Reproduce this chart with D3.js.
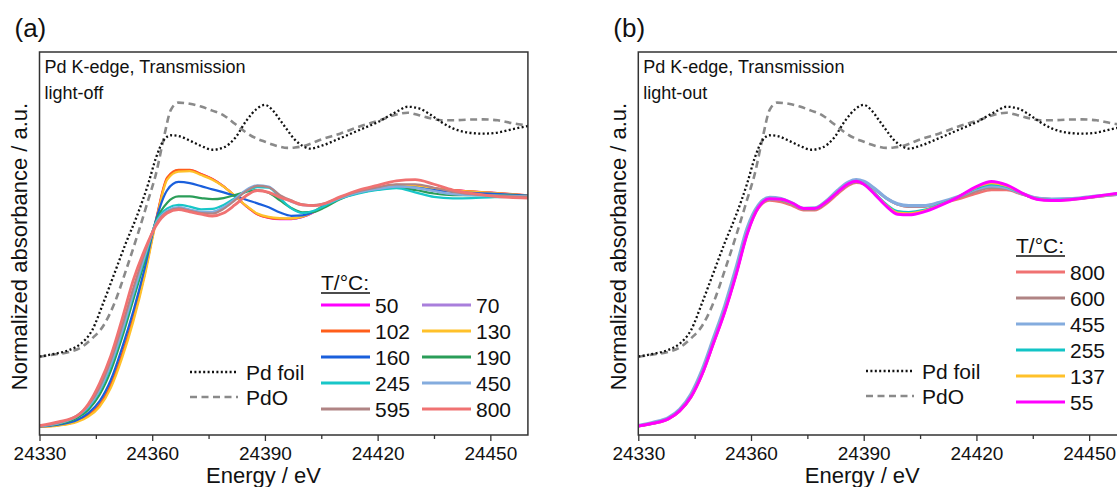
<!DOCTYPE html>
<html>
<head>
<meta charset="utf-8">
<script src="https://cdn.jsdelivr.net/npm/d3@7"></script>
<style>
  html, body { margin: 0; padding: 0; background: #fff; }
  svg { display: block; }
  text { font-family: "Liberation Sans", Arial, sans-serif; fill: #111; }
</style>
</head>
<body>
<svg id="fig" width="1117" height="487"></svg>
<script>
// ---- reference spectra (Pd foil, PdO), shared by both panels ----
const refEnergy = [24330, 24334, 24338, 24341, 24344, 24347, 24350, 24353, 24356, 24359, 24361, 24363, 24365, 24367, 24370, 24373, 24376, 24379, 24382, 24385, 24388, 24390, 24392, 24394, 24396, 24398, 24400, 24402, 24405, 24410, 24415, 24420, 24425, 24428, 24431, 24434, 24437, 24440, 24444, 24448, 24452, 24456, 24460, 24464, 24470];
const pdFoil = [0.306, 0.318, 0.335, 0.362, 0.420, 0.540, 0.670, 0.800, 0.920, 1.060, 1.170, 1.245, 1.268, 1.265, 1.245, 1.222, 1.205, 1.215, 1.255, 1.330, 1.385, 1.400, 1.378, 1.335, 1.290, 1.248, 1.222, 1.210, 1.222, 1.255, 1.290, 1.325, 1.370, 1.392, 1.385, 1.358, 1.325, 1.298, 1.280, 1.275, 1.280, 1.295, 1.308, 1.320, 1.330];
const pdO = [0.305, 0.315, 0.326, 0.345, 0.385, 0.440, 0.540, 0.680, 0.830, 0.990, 1.100, 1.250, 1.380, 1.410, 1.405, 1.393, 1.375, 1.355, 1.318, 1.280, 1.252, 1.240, 1.228, 1.218, 1.213, 1.215, 1.220, 1.230, 1.250, 1.275, 1.305, 1.330, 1.358, 1.366, 1.355, 1.342, 1.333, 1.333, 1.336, 1.337, 1.333, 1.320, 1.310, 1.300, 1.290];

// ---- light-off spectra ----
const offEnergy = [24330, 24335, 24340, 24343, 24346, 24349, 24352, 24355, 24358, 24361, 24364, 24367, 24370, 24373, 24376, 24379, 24382, 24385, 24388, 24391, 24394, 24397, 24400, 24403, 24406, 24410, 24415, 24420, 24425, 24430, 24435, 24440, 24445, 24450, 24455, 24460];
const off50  = [0.001, 0.008, 0.025, 0.050, 0.095, 0.180, 0.312, 0.472, 0.665, 0.897, 1.082, 1.116, 1.117, 1.100, 1.078, 1.046, 1.004, 0.960, 0.924, 0.908, 0.903, 0.903, 0.912, 0.933, 0.966, 0.995, 1.023, 1.040, 1.052, 1.049, 1.038, 1.030, 1.024, 1.019, 1.013, 1.007];
const off70  = [0.001, 0.007, 0.024, 0.049, 0.093, 0.178, 0.310, 0.470, 0.663, 0.895, 1.080, 1.114, 1.115, 1.098, 1.077, 1.046, 1.004, 0.961, 0.926, 0.910, 0.905, 0.905, 0.913, 0.934, 0.967, 0.995, 1.023, 1.039, 1.051, 1.048, 1.037, 1.029, 1.023, 1.018, 1.012, 1.006];
const off102 = [0.001, 0.008, 0.026, 0.052, 0.098, 0.185, 0.318, 0.478, 0.670, 0.900, 1.085, 1.118, 1.118, 1.100, 1.078, 1.046, 1.004, 0.960, 0.925, 0.910, 0.905, 0.905, 0.914, 0.935, 0.968, 0.996, 1.024, 1.040, 1.052, 1.049, 1.038, 1.030, 1.024, 1.019, 1.013, 1.007];
const off130 = [0.000, 0.006, 0.022, 0.045, 0.088, 0.170, 0.300, 0.460, 0.655, 0.890, 1.075, 1.110, 1.112, 1.095, 1.075, 1.045, 1.005, 0.962, 0.928, 0.913, 0.908, 0.907, 0.915, 0.935, 0.968, 0.995, 1.022, 1.038, 1.050, 1.047, 1.036, 1.028, 1.023, 1.018, 1.012, 1.006];
const off160 = [0.002, 0.010, 0.030, 0.060, 0.112, 0.205, 0.345, 0.505, 0.690, 0.900, 1.030, 1.065, 1.060, 1.047, 1.033, 1.020, 1.005, 0.988, 0.972, 0.955, 0.932, 0.918, 0.920, 0.935, 0.965, 0.995, 1.020, 1.035, 1.045, 1.040, 1.030, 1.022, 1.018, 1.014, 1.010, 1.006];
const off190 = [0.003, 0.013, 0.040, 0.075, 0.140, 0.245, 0.390, 0.555, 0.720, 0.895, 0.975, 1.002, 1.002, 0.995, 0.990, 0.995, 1.008, 1.022, 1.030, 1.018, 0.985, 0.952, 0.933, 0.935, 0.955, 0.990, 1.018, 1.033, 1.040, 1.030, 1.015, 1.008, 1.008, 1.008, 1.006, 1.004];
const off245 = [0.004, 0.016, 0.046, 0.085, 0.155, 0.265, 0.410, 0.575, 0.735, 0.890, 0.950, 0.965, 0.958, 0.946, 0.948, 0.965, 0.995, 1.025, 1.042, 1.040, 0.995, 0.950, 0.930, 0.940, 0.962, 0.992, 1.015, 1.030, 1.038, 1.020, 1.000, 0.994, 0.995, 0.998, 1.000, 1.000];
const off450 = [0.004, 0.016, 0.048, 0.090, 0.162, 0.275, 0.420, 0.585, 0.745, 0.885, 0.940, 0.955, 0.945, 0.935, 0.935, 0.955, 0.990, 1.030, 1.050, 1.045, 1.005, 0.980, 0.965, 0.962, 0.970, 0.995, 1.020, 1.035, 1.045, 1.040, 1.025, 1.012, 1.008, 1.006, 1.004, 1.002];
const off595 = [0.005, 0.018, 0.050, 0.095, 0.172, 0.290, 0.440, 0.605, 0.758, 0.880, 0.935, 0.950, 0.940, 0.930, 0.928, 0.948, 0.985, 1.025, 1.048, 1.042, 1.008, 0.985, 0.968, 0.964, 0.972, 0.998, 1.025, 1.042, 1.055, 1.055, 1.040, 1.022, 1.012, 1.006, 1.002, 1.000];
const off800 = [0.006, 0.022, 0.048, 0.100, 0.190, 0.310, 0.470, 0.640, 0.770, 0.875, 0.930, 0.945, 0.935, 0.925, 0.917, 0.930, 0.965, 1.005, 1.028, 1.020, 0.998, 0.982, 0.965, 0.962, 0.972, 1.000, 1.030, 1.050, 1.070, 1.075, 1.055, 1.030, 1.015, 1.005, 0.998, 0.995];
const offLabels = ["50", "70", "102", "130", "160", "190", "245", "450", "595", "800"];
const offColors = ["#ff00ff", "#a97fdc", "#ff5e1a", "#ffc12a", "#1a5fdc", "#2a9d58", "#18c6c8", "#84acde", "#b08484", "#f07272"];

// ---- light-out spectra ----
const outEnergy = [24330, 24334, 24338, 24341, 24344, 24347, 24350, 24353, 24356, 24359, 24362, 24365, 24368, 24371, 24374, 24377, 24380, 24383, 24386, 24388, 24390, 24393, 24396, 24399, 24402, 24406, 24410, 24415, 24420, 24424, 24428, 24432, 24436, 24440, 24445, 24450, 24455, 24460, 24465, 24470];
const out800 = [0.003, 0.015, 0.034, 0.068, 0.128, 0.228, 0.362, 0.500, 0.662, 0.842, 0.952, 0.985, 0.978, 0.962, 0.942, 0.942, 0.970, 1.012, 1.050, 1.062, 1.058, 1.030, 0.995, 0.968, 0.958, 0.958, 0.970, 0.990, 1.015, 1.030, 1.030, 1.012, 0.995, 0.990, 0.990, 0.997, 1.006, 1.014, 1.022, 1.028];
const out600 = [0.004, 0.017, 0.037, 0.072, 0.135, 0.238, 0.372, 0.510, 0.672, 0.850, 0.958, 0.990, 0.985, 0.968, 0.946, 0.946, 0.975, 1.020, 1.058, 1.070, 1.064, 1.034, 0.995, 0.968, 0.958, 0.960, 0.972, 0.995, 1.025, 1.040, 1.036, 1.014, 0.995, 0.990, 0.991, 0.998, 1.007, 1.015, 1.023, 1.029];
const out455 = [0.006, 0.020, 0.040, 0.076, 0.142, 0.248, 0.385, 0.525, 0.690, 0.865, 0.965, 0.998, 0.992, 0.972, 0.950, 0.952, 0.982, 1.028, 1.065, 1.075, 1.068, 1.035, 0.995, 0.970, 0.962, 0.962, 0.975, 1.000, 1.035, 1.048, 1.040, 1.015, 0.995, 0.990, 0.992, 1.000, 1.008, 1.016, 1.024, 1.030];
const out255 = [0.004, 0.016, 0.036, 0.071, 0.132, 0.233, 0.367, 0.505, 0.665, 0.845, 0.956, 0.990, 0.987, 0.970, 0.948, 0.948, 0.976, 1.018, 1.055, 1.066, 1.056, 1.015, 0.968, 0.938, 0.934, 0.943, 0.965, 0.998, 1.038, 1.055, 1.045, 1.016, 0.992, 0.986, 0.989, 0.998, 1.009, 1.018, 1.026, 1.033];
const out137 = [0.004, 0.016, 0.035, 0.070, 0.131, 0.231, 0.365, 0.502, 0.662, 0.842, 0.955, 0.991, 0.988, 0.971, 0.949, 0.949, 0.977, 1.019, 1.056, 1.067, 1.055, 1.012, 0.964, 0.931, 0.928, 0.939, 0.962, 0.998, 1.042, 1.060, 1.048, 1.017, 0.991, 0.985, 0.988, 0.998, 1.009, 1.019, 1.027, 1.034];
const out55  = [0.004, 0.016, 0.035, 0.070, 0.130, 0.230, 0.364, 0.500, 0.660, 0.840, 0.955, 0.992, 0.990, 0.973, 0.950, 0.950, 0.978, 1.020, 1.058, 1.068, 1.055, 1.010, 0.960, 0.925, 0.922, 0.935, 0.960, 0.998, 1.045, 1.067, 1.052, 1.018, 0.990, 0.984, 0.988, 0.998, 1.010, 1.020, 1.028, 1.035];
const outLabels = ["800", "600", "455", "255", "137", "55"];
const outColors = ["#f07272", "#b08484", "#84acde", "#12c4c6", "#ffc12a", "#ff00ff"];

const xTicks = [24330, 24360, 24390, 24420, 24450];
const xMinorTicks = [24345, 24375, 24405, 24435];

const svg = d3.select("#fig");
const yDomain = [-0.035, 1.63];
const pxPerEV = 3.757;

function drawPanel(opt) {
  const left = opt.left, top = 52, bottom = 435;
  const right = left + (opt.xMax - 24330) * pxPerEV;
  const x = d3.scaleLinear().domain([24330, opt.xMax]).range([left, right]);
  const y = d3.scaleLinear().domain(yDomain).range([bottom, top]);
  const g = svg.append("g");

  const clipId = "clip-" + opt.id;
  svg.append("clipPath").attr("id", clipId)
    .append("rect").attr("x", left).attr("y", top)
    .attr("width", right - left).attr("height", bottom - top);

  const line = (xs) => d3.line()
    .x((d, i) => x(xs[i]))
    .y(d => y(d))
    .curve(d3.curveMonotoneX);

  const plot = g.append("g").attr("clip-path", `url(#${clipId})`);

  // reference spectra
  plot.append("path").attr("d", line(refEnergy)(pdO))
    .attr("fill", "none").attr("stroke", "#8a8a8a").attr("stroke-width", 2.6)
    .attr("stroke-dasharray", "7,4.5");
  plot.append("path").attr("d", line(refEnergy)(pdFoil))
    .attr("fill", "none").attr("stroke", "#111").attr("stroke-width", 2.3)
    .attr("stroke-dasharray", "2,2.4");

  // sample spectra
  opt.series.forEach((s, i) => {
    plot.append("path").attr("d", line(opt.energy)(s))
      .attr("fill", "none").attr("stroke", opt.colors[i])
      .attr("stroke-width", opt.widths[i])
      .attr("stroke-linejoin", "round");
  });

  // frame
  g.append("rect").attr("x", left).attr("y", top)
    .attr("width", right - left).attr("height", bottom - top)
    .attr("fill", "none").attr("stroke", "#333").attr("stroke-width", 1.5);

  // x axis
  const ax = g.append("g").attr("transform", `translate(0,${bottom})`)
    .call(d3.axisBottom(x).tickValues(xTicks).tickSize(6).tickPadding(6).tickFormat(d3.format("d")));
  ax.select(".domain").remove();
  ax.selectAll("line").attr("stroke", "#333").attr("stroke-width", 1.3);
  ax.selectAll("text").attr("font-size", 19).attr("font-family", "Liberation Sans, Arial, sans-serif").attr("fill", "#111");
  const axm = g.append("g").attr("transform", `translate(0,${bottom})`)
    .call(d3.axisBottom(x).tickValues(xMinorTicks).tickSize(4).tickFormat(""));
  axm.select(".domain").remove();
  axm.selectAll("line").attr("stroke", "#333").attr("stroke-width", 1.3);

  // axis titles
  g.append("text").attr("x", left + 224).attr("y", 483)
    .attr("text-anchor", "middle").attr("font-size", 22).text("Energy / eV");
  g.append("text")
    .attr("transform", `translate(${left - 20},${(top + bottom) / 2 + 3}) rotate(-90)`)
    .attr("text-anchor", "middle").attr("dominant-baseline", "central")
    .attr("font-size", 22).text("Normalized absorbance / a.u.");

  // panel letter and annotations
  g.append("text").attr("x", left - 25).attr("y", 37)
    .attr("font-family", "Lato, 'Open Sans', sans-serif").attr("font-size", 26).text(opt.letter);
  g.append("text").attr("x", left + 5).attr("y", 73).attr("font-size", 18).text("Pd K-edge, Transmission");
  g.append("text").attr("x", left + 5).attr("y", 99).attr("font-size", 18).text(opt.mode);

  // reference legend
  const rl = opt.refLegend;
  g.append("line").attr("x1", rl.x).attr("x2", rl.x + 48).attr("y1", rl.y).attr("y2", rl.y)
    .attr("stroke", "#111").attr("stroke-width", 2.3).attr("stroke-dasharray", "2,2.4");
  g.append("text").attr("x", rl.x + 56).attr("y", rl.y + 7.5).attr("font-size", 21).text("Pd foil");
  g.append("line").attr("x1", rl.x).attr("x2", rl.x + 48).attr("y1", rl.y + 25).attr("y2", rl.y + 25)
    .attr("stroke", "#8a8a8a").attr("stroke-width", 2.6).attr("stroke-dasharray", "7,4.5");
  g.append("text").attr("x", rl.x + 56).attr("y", rl.y + 32.5).attr("font-size", 21).text("PdO");

  // temperature legend
  const tl = opt.tLegend;
  g.append("text").attr("x", tl.x).attr("y", tl.titleY).attr("font-size", 21).text("T/°C:");
  g.append("line").attr("x1", tl.x).attr("x2", tl.x + 49).attr("y1", tl.titleY + 3).attr("y2", tl.titleY + 3)
    .attr("stroke", "#111").attr("stroke-width", 1.3);
  opt.labels.forEach((lab, i) => {
    const col = i % tl.cols, row = Math.floor(i / tl.cols);
    const lx = tl.x + col * tl.colW, ly = tl.rowY + row * 26;
    g.append("line").attr("x1", lx).attr("x2", lx + 49).attr("y1", ly).attr("y2", ly)
      .attr("stroke", opt.colors[i]).attr("stroke-width", 3);
    g.append("text").attr("x", lx + 54).attr("y", ly + 8).attr("font-size", 21).text(lab);
  });
}

drawPanel({
  id: "a", left: 39.5, xMax: 24460, letter: "(a)", mode: "light-off",
  energy: offEnergy,
  series: [off50, off70, off102, off130, off160, off190, off245, off450, off595, off800],
  colors: offColors,
  widths: [2, 2, 2.2, 2.2, 2.2, 2.2, 2.2, 2.4, 2.2, 2.8],
  labels: offLabels,
  refLegend: { x: 190, y: 372 },
  tLegend: { x: 321, titleY: 290, rowY: 305, cols: 2, colW: 101 }
});

drawPanel({
  id: "b", left: 638.3, xMax: 24470, letter: "(b)", mode: "light-out",
  energy: outEnergy,
  series: [out800, out600, out455, out255, out137, out55],
  colors: outColors,
  widths: [2.6, 2.6, 3.4, 2.4, 2.4, 3],
  labels: outLabels,
  refLegend: { x: 866, y: 371 },
  tLegend: { x: 1016, titleY: 253, rowY: 272, cols: 1, colW: 0 }
});
</script>
</body>
</html>
